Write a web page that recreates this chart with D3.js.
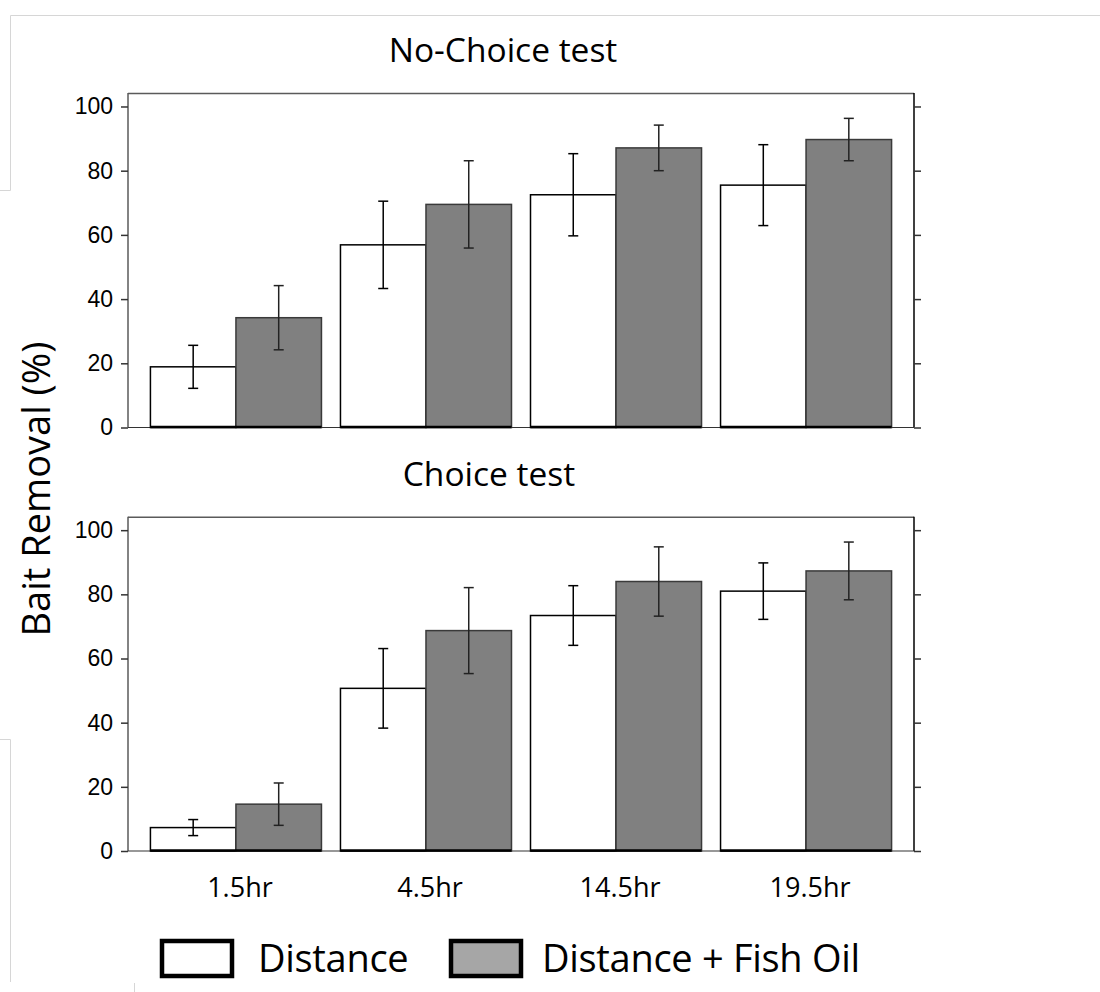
<!DOCTYPE html>
<meta charset="utf-8">
<style type="text/css">
body {
  margin: 0;
  background: #fff;
}
svg {
  font-family: "Open Sans", sans-serif;
}
.tick-label {
  font-family: "Liberation Sans", Arial, sans-serif;
  font-size: 23px;
}
</style>
<body>
<div id="chart"></div>
<script src="https://d3js.org/d3.v7.min.js"></script>
<script>
var width = 1100,
    height = 992;

// categories and series
var times = ['1.5hr', '4.5hr', '14.5hr', '19.5hr'];
var series = ['Distance', 'Distance + Fish Oil'];
var yTicks = [0, 20, 40, 60, 80, 100];

// No-Choice test: means and error half-widths
var noChoiceDistance = [18.9, 56.9, 72.5, 75.5];
var noChoiceDistanceErr = [6.7, 13.6, 12.8, 12.6];
var noChoiceFishOil = [34.2, 69.5, 87.1, 89.7];
var noChoiceFishOilErr = [10.0, 13.6, 7.1, 6.6];

// Choice test
var choiceDistance = [7.3, 50.7, 73.4, 81.0];
var choiceDistanceErr = [2.5, 12.4, 9.3, 8.8];
var choiceFishOil = [14.6, 68.7, 84.0, 87.3];
var choiceFishOilErr = [6.6, 13.4, 10.8, 9.0];

var fills = ['#ffffff', '#808080'];
var strokes = ['#000000', '#3a3a3a'];

var svg = d3.select('#chart').append('svg')
    .attr('width', width)
    .attr('height', height);

// faint page border fragments
var faint = svg.append('g').attr('stroke', '#d6d6d6').attr('stroke-width', 1).attr('fill', 'none');
faint.append('path').attr('d', 'M0,190.5H10.5V15.5H1100');
faint.append('path').attr('d', 'M0,739.5H10.5V982');
faint.append('path').attr('d', 'M134.5,983V992');

var left = 128, right = 914;

var x0 = d3.scaleBand()
    .domain(times)
    .range([left, right])
    .paddingInner(0.1)
    .paddingOuter(0.118);

var x1 = d3.scaleBand()
    .domain(series)
    .range([0, x0.bandwidth()])
    .padding(0);

function drawPanel(top, bottom, title, titleX, titleY, vals, errs) {
  var y = d3.scaleLinear().domain([0, 104.2]).range([bottom, top]);
  var g = svg.append('g');

  var rows = [];
  times.forEach(function(t, i) {
    series.forEach(function(s, j) {
      rows.push({time: t, series: s, j: j, value: vals[j][i], err: errs[j][i]});
    });
  });

  // frame: top and left grey, right black
  g.append('line').attr('x1', left).attr('x2', right).attr('y1', top + 0.5).attr('y2', top + 0.5)
      .attr('stroke', '#5a5a5a').attr('stroke-width', 1.5);

  g.append('g')
      .attr('transform', 'translate(' + left + ',0)')
      .call(d3.axisLeft(y).tickValues(yTicks).tickSize(7).tickPadding(8))
      .call(function(a) {
        a.select('.domain').attr('stroke', '#5a5a5a').attr('stroke-width', 1.5)
          .attr('d', 'M0,' + bottom + 'V' + top);
        a.selectAll('.tick line').attr('stroke', '#333').attr('stroke-width', 1.5);
        a.selectAll('.tick text').attr('class', 'tick-label').attr('fill', '#000').attr('font-size', null).attr('font-family', null);
      });

  g.append('g')
      .attr('transform', 'translate(' + right + ',0)')
      .call(d3.axisRight(y).tickValues(yTicks).tickSize(7).tickFormat(''))
      .call(function(a) {
        a.select('.domain').attr('stroke', '#000').attr('stroke-width', 1.5)
          .attr('d', 'M0,' + bottom + 'V' + top);
        a.selectAll('.tick line').attr('stroke', '#333').attr('stroke-width', 1.5);
      });

  g.append('line').attr('x1', left).attr('x2', right).attr('y1', bottom).attr('y2', bottom)
      .attr('stroke', '#333').attr('stroke-width', 1.2);

  // bars
  g.selectAll('rect.bar')
      .data(rows)
    .enter().append('rect')
      .attr('class', 'bar')
      .attr('x', function(d) { return x0(d.time) + x1(d.series); })
      .attr('width', x1.bandwidth())
      .attr('y', function(d) { return y(d.value); })
      .attr('height', function(d) { return y(0) - y(d.value); })
      .attr('fill', function(d) { return fills[d.j]; })
      .attr('stroke', function(d) { return strokes[d.j]; })
      .attr('stroke-width', 1.5);

  // heavy bar bottoms
  g.selectAll('line.base')
      .data(times)
    .enter().append('line')
      .attr('x1', function(d) { return x0(d); })
      .attr('x2', function(d) { return x0(d) + x0.bandwidth(); })
      .attr('y1', bottom - 0.5)
      .attr('y2', bottom - 0.5)
      .attr('stroke', '#000')
      .attr('stroke-width', 2.5);

  // error bars
  var cx = function(d) { return x0(d.time) + x1(d.series) + x1.bandwidth() / 2; };
  var eb = g.selectAll('g.err')
      .data(rows)
    .enter().append('g')
      .attr('class', 'err')
      .attr('stroke', function(d) { return d.j ? '#222' : '#000'; })
      .attr('stroke-width', 1.5);

  eb.append('line')
      .attr('x1', cx).attr('x2', cx)
      .attr('y1', function(d) { return y(d.value + d.err); })
      .attr('y2', function(d) { return y(d.value - d.err); });
  eb.append('line')
      .attr('x1', function(d) { return cx(d) - 5; })
      .attr('x2', function(d) { return cx(d) + 5; })
      .attr('y1', function(d) { return y(d.value + d.err); })
      .attr('y2', function(d) { return y(d.value + d.err); });
  eb.append('line')
      .attr('x1', function(d) { return cx(d) - 5; })
      .attr('x2', function(d) { return cx(d) + 5; })
      .attr('y1', function(d) { return y(d.value - d.err); })
      .attr('y2', function(d) { return y(d.value - d.err); });

  svg.append('text')
      .attr('x', titleX)
      .attr('y', titleY)
      .attr('text-anchor', 'middle')
      .attr('font-size', 33.5)
      .attr('fill', '#000')
      .text(title);
}

drawPanel(93, 427.5, 'No-Choice test', 503, 62,
  [noChoiceDistance, noChoiceFishOil], [noChoiceDistanceErr, noChoiceFishOilErr]);
drawPanel(516.7, 851, 'Choice test', 489, 486,
  [choiceDistance, choiceFishOil], [choiceDistanceErr, choiceFishOilErr]);

// x category labels
svg.selectAll('text.xlab')
    .data(times)
  .enter().append('text')
    .attr('class', 'xlab')
    .attr('x', function(d) { return x0(d) + x0.bandwidth() / 2 + 4; })
    .attr('y', 897)
    .attr('text-anchor', 'middle')
    .attr('font-size', 27)
    .attr('fill', '#000')
    .text(function(d) { return d; });

// y axis title
svg.append('text')
    .attr('transform', 'translate(50,489) rotate(-90)')
    .attr('text-anchor', 'middle')
    .attr('font-size', 38)
    .attr('fill', '#000')
    .text('Bait Removal (%)');

// legend
var legendX = [162, 451];
var legend = svg.selectAll('g.legend')
    .data(series)
  .enter().append('g')
    .attr('class', 'legend')
    .attr('transform', function(d, i) { return 'translate(' + legendX[i] + ',941)'; });

legend.append('rect')
    .attr('width', 70)
    .attr('height', 35)
    .attr('fill', function(d, i) { return i ? '#a6a6a6' : '#fff'; })
    .attr('stroke', '#000')
    .attr('stroke-width', 4.5);

legend.append('text')
    .attr('x', function(d, i) { return i ? 91 : 96; })
    .attr('y', 31)
    .attr('font-size', 38)
    .attr('letter-spacing', -0.3)
    .attr('fill', '#000')
    .text(function(d) { return d; });
</script>
